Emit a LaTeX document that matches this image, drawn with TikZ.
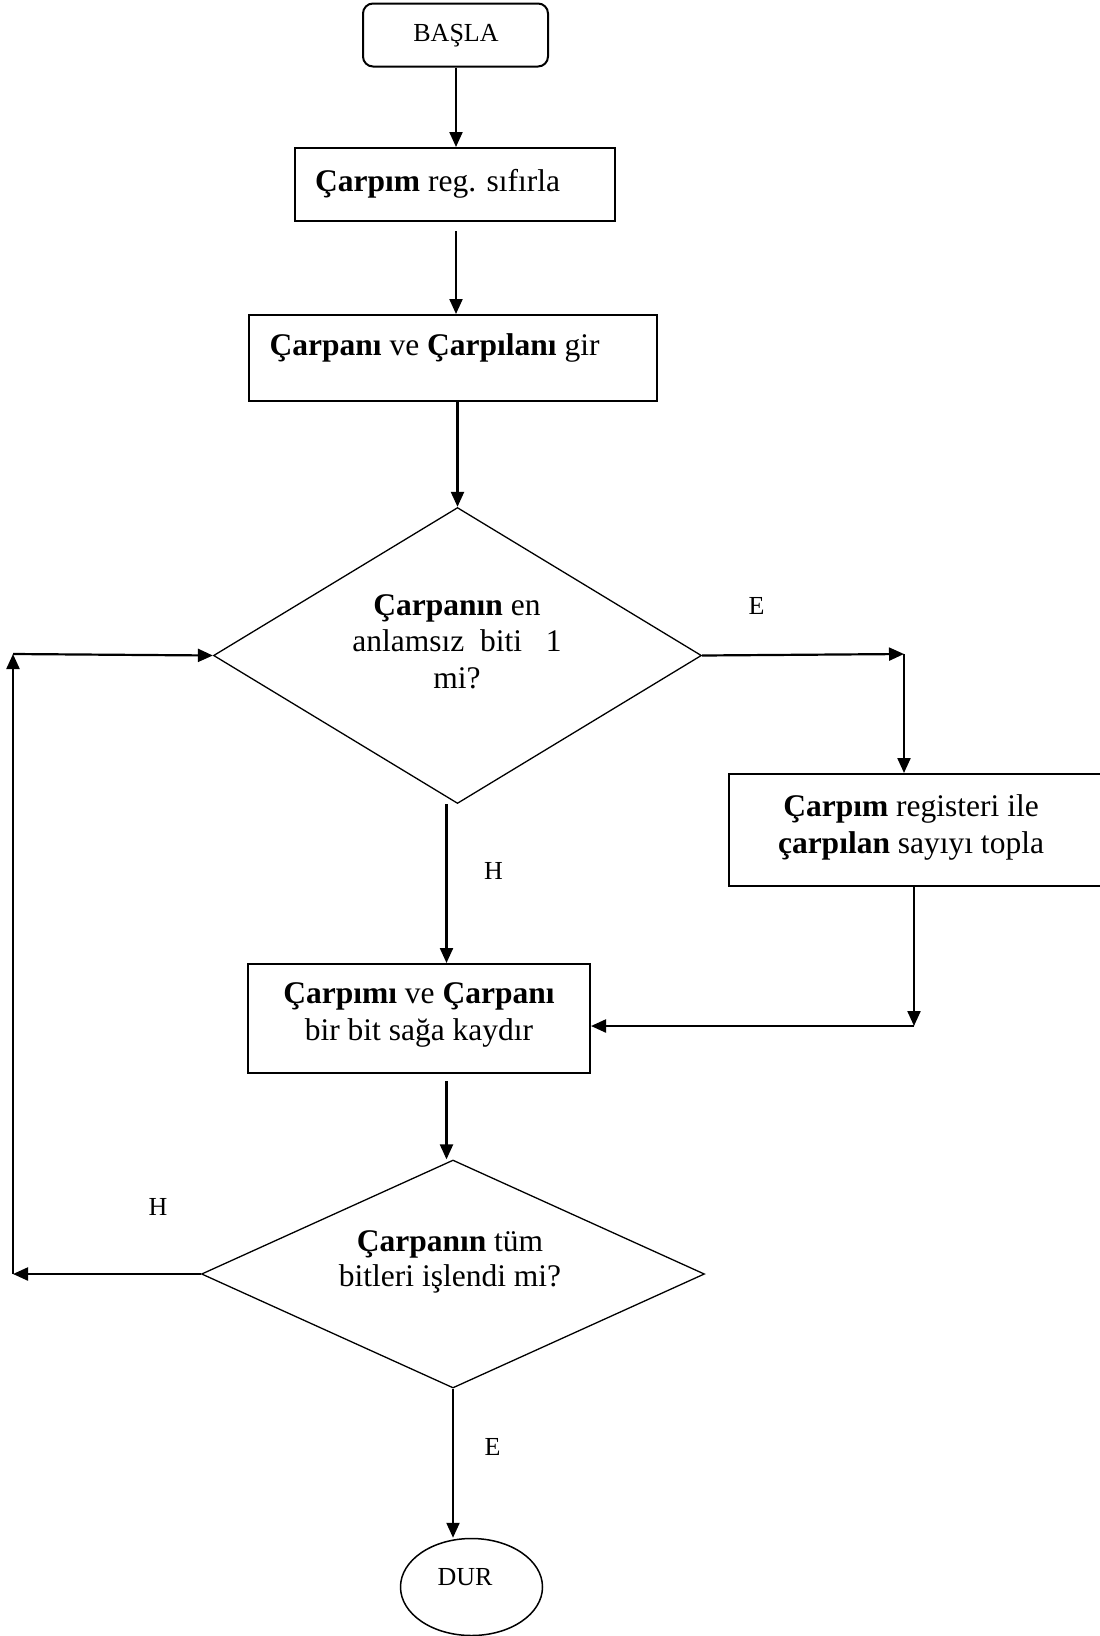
\documentclass[tikz,border=0pt]{standalone}
\usepackage{fontspec}
\setmainfont{Liberation Serif}
\usetikzlibrary{arrows.meta,shapes.geometric}
\begin{document}
\begin{tikzpicture}[x=1pt,y=-1pt,
  box/.style={draw, line width=2pt, inner sep=0pt, rectangle},
  dia/.style={draw, line width=1.3pt, diamond, inner sep=0pt},
  big/.style={font=\fontsize{31.5}{36}\selectfont, inner sep=0pt, anchor=base},
  small/.style={font=\fontsize{26}{30}\selectfont, inner sep=0pt},
  arr/.style={line width=2.2pt, -{Triangle[length=15pt,width=13pt]}},
  ]
\useasboundingbox (0,0) rectangle (1100,1636);

% shapes
\node[box, rounded corners=10pt, minimum width=185pt, minimum height=63pt] (basla) at (455.5,35) {};
\node[small, anchor=base] (tbasla) at (456,41.7) {BAŞLA};

\node[box, minimum width=320pt, minimum height=73pt] (b1) at (454.5,184.5) {};
\node[big, anchor=base west] (tb1) at (315,191.7) {\textbf{Çarpım} reg. sıfırla};

\node[box, minimum width=408pt, minimum height=86pt] (b2) at (453,358) {};
\node[big, anchor=base west] (tb2) at (269.5,355) {\textbf{Çarpanı} ve \textbf{Çarpılanı} gir};

\node[dia, minimum width=488pt, minimum height=296pt] (d1) at (457.5,655.5) {};
\node[big] (td1a) at (457,615) {\textbf{Çarpanın} en};
\node[big] (td1b) at (457,651.5) {anlamsız\ \ biti\ \ \ 1};
\node[big] (td1c) at (457,688) {mi?};

\node[box, minimum width=372pt, minimum height=112pt] (b3) at (915,830) {};
\node[big] (tb3a) at (911,816) {\textbf{Çarpım} registeri ile};
\node[big] (tb3b) at (911,853) {\textbf{çarpılan} sayıyı topla};

\node[box, minimum width=342pt, minimum height=109pt] (b4) at (419,1018.5) {};
\node[big] (tb4a) at (419,1003.3) {\textbf{Çarpımı} ve \textbf{Çarpanı}};
\node[big] (tb4b) at (419,1040) {bir bit sağa kaydır};

\node[dia, minimum width=503pt, minimum height=228pt] (d2) at (453,1274) {};
\node[big] (td2a) at (450,1251.7) {\textbf{Çarpanın} tüm};
\node[big] (td2b) at (450,1286) {bitleri işlendi mi?};

\node[draw, line width=1.5pt, ellipse, inner sep=0pt, minimum width=142pt, minimum height=97pt] (dur) at (471.5,1587) {};
\node[small] (tdur) at (465,1577) {DUR};

% labels
\node[small] (lE1) at (756.6,606) {E};
\node[small] (lH1) at (493.6,871) {H};
\node[small] (lH2) at (158,1207) {H};
\node[small] (lE2) at (492.5,1447) {E};

% helper coordinates
\coordinate (cR) at (904,654);
\coordinate (cB) at (914,1026);
\coordinate (hx) at (446.5,0);
\coordinate (cL) at (13,1274);
\coordinate (cT) at (13,654);

% connectors
\draw[arr] ([xshift=0.5pt]basla.south) -- ([xshift=0.5pt]basla.south |- b1.north);
\draw[arr, shorten <=9pt] ([xshift=1.5pt]b1.south) -- ([xshift=1.5pt]b1.south |- b2.north);
\draw[arr] (d1.north |- b2.south) -- (d1.north);
\draw[arr] (d1.east) -- (cR);
\draw[arr] (cR) -- (cR |- b3.north);
\draw[arr] (b3.south -| cB) -- (cB);
\draw[arr] (cB) -- (cB -| b4.east);
\draw[arr] (d1.south -| hx) -- (b4.north -| hx);
\draw[arr, shorten <=7pt] (b4.south -| hx) -- (d2.north -| hx);
\draw[arr] (d2.west) -- (cL);
\draw[arr] (cL) -- (cT);
\draw[arr] (cT) -- (d1.west);
\draw[arr] (d2.south) -- (d2.south |- dur.north);
\end{tikzpicture}
\end{document}
